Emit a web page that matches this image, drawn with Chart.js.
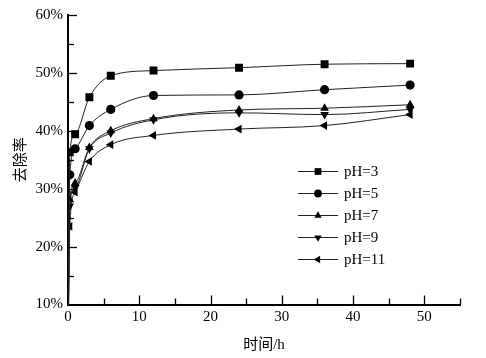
<!DOCTYPE html>
<html><head><meta charset="utf-8">
<script src="https://cdn.jsdelivr.net/npm/chart.js@4/dist/chart.umd.min.js"></script>
<style>html,body{margin:0;padding:0;background:#fff;}#wrap{width:486px;height:358px;}</style>
</head><body><div id="wrap"><canvas id="c" width="486" height="358"></canvas></div>
<script>
const times = [0, 0.25, 1, 3, 6, 12, 24, 36, 48];
const seriesLabels = ['pH=3', 'pH=5', 'pH=7', 'pH=9', 'pH=11'];
const ph3  = [0, 36.3, 39.4, 45.8, 49.5, 50.4, 50.9, 51.5, 51.6];
const ph5  = [0, 32.4, 36.9, 40.9, 43.7, 46.1, 46.2, 47.1, 47.9];
const ph7  = [0, 28.1, 31.0, 37.1, 40.0, 42.1, 43.6, 43.9, 44.5];
const ph9  = [0, 27.0, 30.2, 36.9, 39.6, 41.9, 43.1, 42.8, 43.7];
const ph11 = [0, 23.5, 29.4, 34.7, 37.6, 39.2, 40.3, 40.9, 42.8];
const xTickLabels = [0, 10, 20, 30, 40, 50];
const yTickLabels = [10, 20, 30, 40, 50, 60];

const serif = "'Liberation Serif','Times New Roman',serif";
const cjk = "'Liberation Serif','Noto Sans CJK SC',serif";
const styles = [
  {ps:'rect', r:5.6, rot:0},
  {ps:'circle', r:4.6, rot:0},
  {ps:'triangle', r:5, rot:0},
  {ps:'triangle', r:5, rot:180},
  {ps:'triangle', r:5, rot:270}
];
const values = [ph3, ph5, ph7, ph9, ph11];
const datasets = values.map((v, i) => ({
  label: seriesLabels[i],
  data: times.map((t, j) => ({x: t, y: v[j]})),
  borderColor: '#222',
  borderWidth: 1,
  backgroundColor: '#000',
  pointBackgroundColor: '#000',
  pointBorderColor: '#000',
  pointBorderWidth: 0,
  pointStyle: styles[i].ps,
  pointRotation: styles[i].rot,
  pointRadius: times.map(t => t === 0 ? 0 : styles[i].r),
  cubicInterpolationMode: 'monotone',
  fill: false
}));

const inTicks = {
  id: 'inTicks',
  afterDraw(chart) {
    const ctx = chart.ctx, xs = chart.scales.x, ys = chart.scales.y, a = chart.chartArea;
    ctx.save();
    ctx.strokeStyle = '#000'; ctx.lineWidth = 1.3;
    xs.ticks.forEach(t => {
      if (t.value === 0) return;
      const px = Math.round(xs.getPixelForValue(t.value)) + 0.5;
      const len = t.value % 10 === 0 ? 9 : 6;
      ctx.beginPath(); ctx.moveTo(px, a.bottom); ctx.lineTo(px, a.bottom - len); ctx.stroke();
    });
    ys.ticks.forEach(t => {
      if (t.value === 10) return;
      const py = Math.round(ys.getPixelForValue(t.value)) + 0.5;
      const len = t.value % 10 === 0 ? 9 : 6;
      ctx.beginPath(); ctx.moveTo(a.left, py); ctx.lineTo(a.left + len, py); ctx.stroke();
    });
    // legend
    chart.data.datasets.forEach((ds, i) => {
      const y = 171 + i * 22;
      ctx.strokeStyle = '#222'; ctx.lineWidth = 1;
      ctx.beginPath(); ctx.moveTo(298, y + 0.5); ctx.lineTo(338, y + 0.5); ctx.stroke();
      ctx.fillStyle = '#000'; ctx.strokeStyle = '#000';
      Chart.helpers.drawPoint(ctx, {pointStyle: ds.pointStyle, radius: styles[i].r * 0.85, rotation: ds.pointRotation, borderWidth: 0}, 318, y + 0.5);
      ctx.fillStyle = '#000';
      ctx.font = '15px ' + serif;
      ctx.textBaseline = 'middle'; ctx.textAlign = 'left';
      ctx.fillText(ds.label, 344, y + 1);
    });
    ctx.restore();
  }
};

new Chart(document.getElementById('c'), {
  type: 'line',
  data: {datasets},
  plugins: [inTicks],
  options: {
    responsive: false,
    animation: false,
    layout: {padding: {top: 15, right: 26, left: 0, bottom: 0}},
    plugins: {legend: {display: false}, tooltip: {enabled: false}},
    scales: {
      x: {
        type: 'linear', min: 0, max: 55,
        ticks: {stepSize: 5, color: '#000', font: {family: serif, size: 15}, padding: 4,
          callback: v => xTickLabels.includes(v) ? String(v) : ''},
        grid: {display: true, drawOnChartArea: false, drawTicks: false},
        border: {display: true, color: '#000', width: 2},
        title: {display: true, text: '时间/h', color: '#000', font: {family: cjk, size: 15}, padding: {top: 4}},
        afterFit: s => { s.height = 53.5; }
      },
      y: {
        type: 'linear', min: 10, max: 60,
        ticks: {stepSize: 5, color: '#000', font: {family: serif, size: 15}, padding: 5,
          callback: v => yTickLabels.includes(v) ? v + '%' : ''},
        grid: {display: true, drawOnChartArea: false, drawTicks: false},
        border: {display: true, color: '#000', width: 2},
        title: {display: true, text: '去除率', color: '#000', font: {family: cjk, size: 15}, padding: {top: 12, bottom: 0}},
        afterFit: s => { s.width = 68; }
      }
    }
  }
});
</script></body></html>
